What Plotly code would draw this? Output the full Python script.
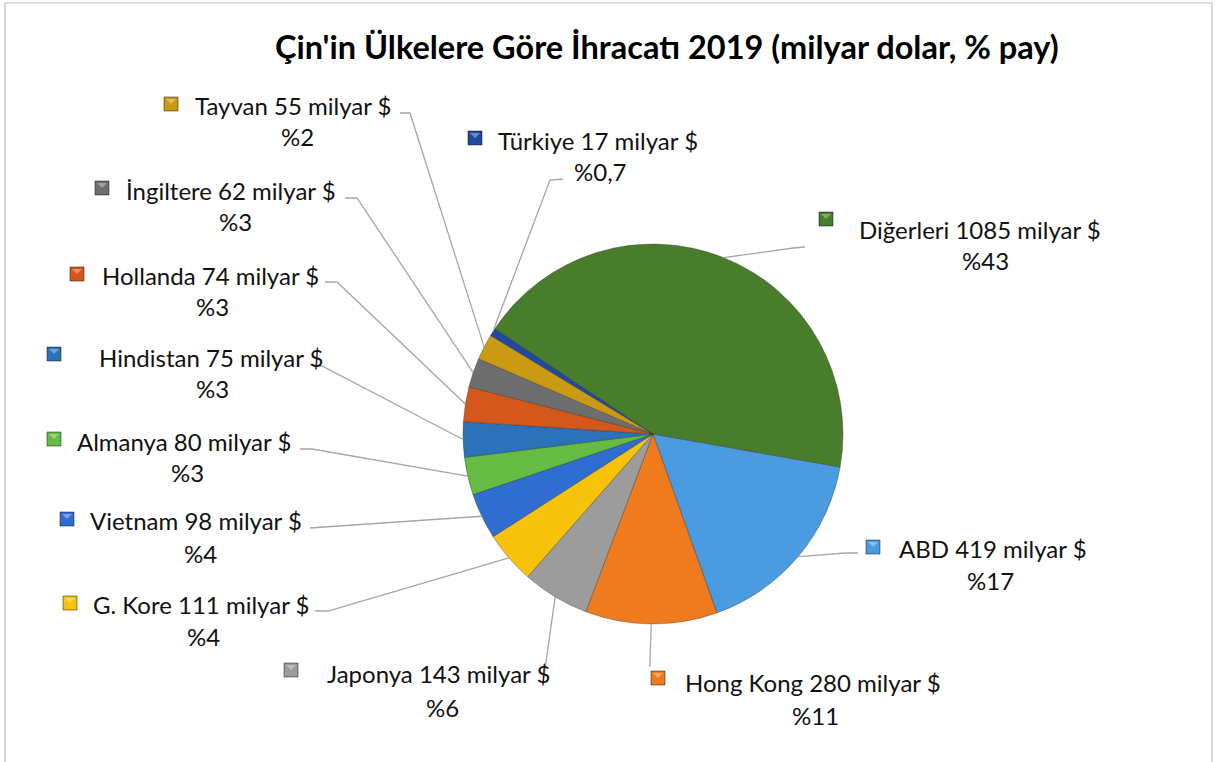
import math
import plotly.graph_objects as go

# ---------------- data ----------------
countries = ["ABD", "Hong Kong", "Japonya", "G. Kore", "Vietnam", "Almanya",
             "Hindistan", "Hollanda", "İngiltere", "Tayvan", "Türkiye", "Diğerleri"]
exports_bn = [419, 280, 143, 111, 98, 80, 75, 74, 62, 55, 17, 1085]
share_labels = ["%17", "%11", "%6", "%4", "%4", "%3", "%3", "%3", "%3", "%2", "%0,7", "%43"]
title_text = "Çin'in Ülkelere Göre İhracatı 2019 (milyar dolar, % pay)"
unit_text = "milyar $"

# ---------------- styles / layout ----------------
colors = ["#4A9BE0", "#F07A1E", "#9C9C9C", "#F7C20A", "#2F6DD0", "#66BC42",
          "#2C72B8", "#D4571C", "#6E6E6E", "#C99A12", "#1F4A9E", "#487D2B"]
W, H = 1215, 762
OFF = 0  # body margin removed via post_script, so layout coordinates are screen pixels
CX, CY, R = 653, 434, 190
ROT = 100  # first slice starts at this clockwise angle from 12 o'clock
FONT = "Lato"
LABEL_SIZE = 24
TITLE_SIZE = 32.5
LINE_COLOR = "#A6A6A6"

# label layout: marker centre, text-left x, line1 y, pct centre x, pct y, anchor, elbow
label_layout = [
    dict(m=(873, 547), tx=897, ty=548, px=990, py=580, a=(858, 553), e=(846, 553)),   # ABD
    dict(m=(658, 678), tx=683, ty=682, px=815, py=715, a=(650, 667), e=(650, 660)),   # Hong Kong
    dict(m=(291, 670), tx=325, ty=673, px=442, py=707, a=(543, 683), e=(544, 676)),   # Japonya
    dict(m=(70, 603), tx=91, ty=604, px=203, py=636, a=(315, 611), e=(328, 611)),     # G. Kore
    dict(m=(67, 519), tx=88, ty=520, px=200, py=553, a=(310, 528), e=(324, 527)),     # Vietnam
    dict(m=(54, 439), tx=75, ty=441, px=187, py=472, a=(300, 449), e=(312, 449)),     # Almanya
    dict(m=(54, 354), tx=97, ty=357, px=212, py=388, a=(310, 365), e=(322, 366)),     # Hindistan
    dict(m=(77, 274), tx=100, ty=275, px=212, py=306, a=(325, 282), e=(337, 282)),    # Hollanda
    dict(m=(102, 188), tx=124, ty=190, px=235, py=221, a=(345, 198), e=(357, 198)),   # İngiltere
    dict(m=(171, 104), tx=193, ty=105, px=297, py=136, a=(400, 113), e=(410, 113)),   # Tayvan
    dict(m=(475, 138), tx=496, ty=140, px=600, py=171, a=(563, 179), e=(550, 180)),   # Türkiye
    dict(m=(826, 219), tx=857, ty=229, px=985, py=260, a=(805, 247), e=(793, 248)),   # Diğerleri
]

fig = go.Figure()

fig.add_trace(go.Pie(
    labels=countries,
    values=exports_bn,
    sort=False,
    direction="clockwise",
    rotation=ROT,
    marker=dict(colors=colors, line=dict(color="rgba(40,40,40,0.35)", width=1)),
    textinfo="none",
    hoverinfo="label+value+percent",
    showlegend=False,
    domain=dict(x=[(CX - OFF - R) / W, (CX - OFF + R) / W],
                y=[(H - (CY - OFF + R)) / H, (H - (CY - OFF - R)) / H]),
))

# compute slice mid-angles from the data
total = sum(exports_bn)
shapes = []
annotations = []
cum = 0.0
for name, val, pct, col, lay in zip(countries, exports_bn, share_labels, colors, label_layout):
    start = ROT + cum / total * 360.0
    cum += val
    end = ROT + cum / total * 360.0
    mid = math.radians((start + end) / 2.0)
    ex = CX + R * math.sin(mid)
    ey = CY - R * math.cos(mid)
    ax, ay = lay["a"]
    bx, by = lay["e"]
    shapes.append(dict(type="path", xref="x", yref="y",
                       path=f"M {ax} {ay} L {bx} {by} L {ex:.2f} {ey:.2f}",
                       line=dict(color=LINE_COLOR, width=1.3)))
    mx, my = lay["m"]
    s = 7
    shapes.append(dict(type="rect", xref="x", yref="y",
                       x0=mx - s, x1=mx + s, y0=my - s, y1=my + s,
                       fillcolor=col, line=dict(color="rgba(0,0,0,0.45)", width=1)))
    shapes.append(dict(type="path", xref="x", yref="y",
                       path=f"M {mx - s + 2} {my - s + 2} L {mx + s - 2} {my - s + 2} L {mx} {my} Z",
                       fillcolor="rgba(255,255,255,0.35)", line=dict(width=0)))
    annotations.append(dict(x=lay["tx"], y=lay["ty"], xref="x", yref="y",
                            text=f"{name} {val} {unit_text}", showarrow=False,
                            xanchor="left", yanchor="middle",
                            font=dict(family=FONT, size=LABEL_SIZE, color="#111111")))
    annotations.append(dict(x=lay["px"], y=lay["py"], xref="x", yref="y",
                            text=pct, showarrow=False,
                            xanchor="center", yanchor="middle",
                            font=dict(family=FONT, size=LABEL_SIZE, color="#111111")))

# title
annotations.append(dict(x=667, y=46, xref="x", yref="y", text=f"<b>{title_text}</b>",
                        showarrow=False, xanchor="center", yanchor="middle",
                        font=dict(family=FONT, size=TITLE_SIZE, color="#000000")))

# chart border
shapes.append(dict(type="rect", xref="x", yref="y", x0=5, x1=1212, y0=3, y1=820,
                   line=dict(color="#BFBFBF", width=1.2), fillcolor="rgba(0,0,0,0)"))

fig.update_layout(
    width=W, height=H,
    margin=dict(l=0, r=0, t=0, b=0),
    paper_bgcolor="white", plot_bgcolor="rgba(0,0,0,0)",
    xaxis=dict(range=[OFF, W + OFF], visible=False, fixedrange=True, domain=[0, 1]),
    yaxis=dict(range=[H + OFF, OFF], visible=False, fixedrange=True, domain=[0, 1]),
    shapes=shapes,
    annotations=annotations,
    showlegend=False,
)

fig.write_html("out.html",
               config={"displayModeBar": False},
               post_script="document.body.style.margin='0';document.body.style.overflow='hidden';")
